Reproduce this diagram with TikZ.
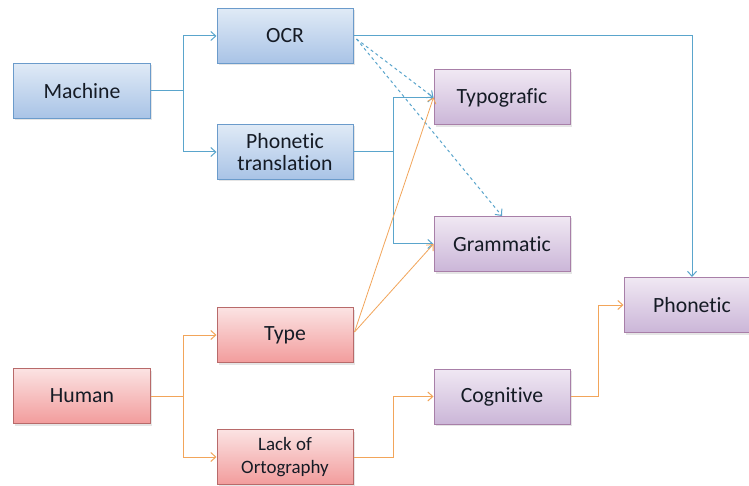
\documentclass[tikz,border=0pt]{standalone}
\usepackage{fontspec}
\setmainfont[RawFeature={-liga;-clig;-calt;-dlig}]{Carlito}
\usetikzlibrary{arrows.meta,shadows}
\definecolor{blueTop}{HTML}{E0EAF6}
\definecolor{blueBot}{HTML}{A8C3E6}
\definecolor{blueBorder}{HTML}{6B9BCB}
\definecolor{redTop}{HTML}{FBE3E3}
\definecolor{redBot}{HTML}{F29C9C}
\definecolor{redBorder}{HTML}{B86A6A}
\definecolor{purTop}{HTML}{F0E8F3}
\definecolor{purBot}{HTML}{CBB6D8}
\definecolor{purBorder}{HTML}{A87FA8}
\definecolor{lineBlue}{HTML}{5AA5CC}
\definecolor{lineOrange}{HTML}{F2A55A}
\definecolor{textc}{HTML}{151B25}
\begin{document}
\begin{tikzpicture}[x=1bp,y=-1bp,
  box/.style={draw, line width=1bp, minimum width=136bp, minimum height=55bp,
    inner sep=2bp, align=center, font=\fontsize{21.8}{23}\selectfont, text=textc,
    drop shadow={shadow xshift=1.5bp, shadow yshift=-2bp, opacity=0.25, fill=black!40}},
  mbox/.style={box, draw=blueBorder, top color=blueTop, bottom color=blueBot},
  rbox/.style={box, draw=redBorder, top color=redTop, bottom color=redBot},
  pbox/.style={box, draw=purBorder, top color=purTop, bottom color=purBot},
  tip/.style={-{Straight Barb[length=5bp,width=9bp]}},
  bline/.style={draw=lineBlue, line width=1bp, tip},
  oline/.style={draw=lineOrange, line width=1bp, tip}]
\clip (0,0) rectangle (749,486);
\fill[white] (0,0) rectangle (749,486);

\node[mbox] (machine) at (82,91) {Machine};
\node[mbox] (ocr) at (285,36) {OCR};
\node[mbox] (phtr) at (285,152) {Phonetic\\translation};
\node[pbox] (typo) at (502,97.5) {Typografic};
\node[pbox] (gram) at (502,244) {Grammatic};
\node[pbox] (phon) at (692,305) {Phonetic};
\node[pbox] (cog) at (502,396.5) {Cognitive};
\node[rbox] (human) at (82,396) {Human};
\node[rbox] (type) at (285,335) {Type};
\node[rbox, font=\fontsize{19}{22.5}\selectfont] (lack) at (285,457) {Lack of\\Ortography};

% machine side
\draw[bline] (machine.east) -- ++(33,0) |- (ocr.west);
\draw[bline] (machine.east) -- ++(33,0) |- (phtr.west);
\draw[bline] (ocr.east) -| (phon.north);
\draw[bline] (phtr.east) -- ++(40,0) |- (typo.west);
\draw[bline] (phtr.east) -- ++(40,0) |- (gram.west);
\draw[bline, dashed] ([shift={(3,3)}]ocr.east) -- (typo.west);
\draw[bline, dashed] ([shift={(3,3)}]ocr.east) -- (gram.north);

% human side
\draw[oline] (human.east) -- ++(33,0) |- (type.west);
\draw[oline] (human.east) -- ++(33,0) |- (lack.west);
\draw[oline, line width=0.8bp] ([shift={(1,-3)}]type.east) -- (typo.west);
\draw[oline, line width=0.8bp] ([shift={(1,-3)}]type.east) -- (gram.west);
\draw[oline] (lack.east) -- ++(40,0) |- (cog.west);
\draw[oline] (cog.east) -- ++(28,0) |- (phon.west);
\end{tikzpicture}
\end{document}
